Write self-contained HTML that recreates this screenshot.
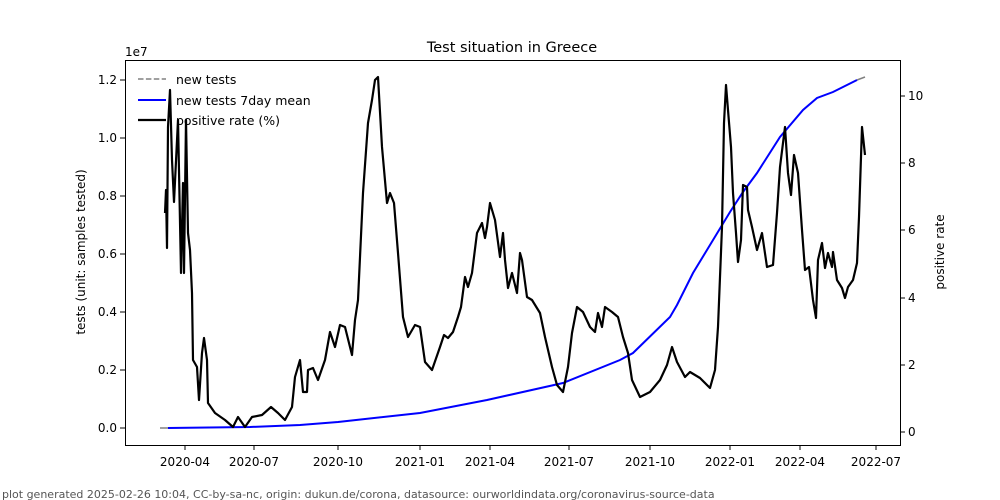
<!DOCTYPE html>
<html><head><meta charset="utf-8"><style>body{margin:0;background:#fff}svg{display:block}text{font-family:"DejaVu Sans","Liberation Sans",sans-serif}</style></head><body>
<svg width="1000" height="500" viewBox="0 0 1000 500">
<rect width="1000" height="500" fill="#fff"/>
<text x="512" y="52" font-size="14.5" text-anchor="middle">Test situation in Greece</text>
<text x="125" y="56" font-size="12">1e7</text>
<g font-size="12" text-anchor="end">
<line x1="120" x2="125" y1="428" y2="428" stroke="#000"/><text x="117" y="432">0.0</text>
<line x1="120" x2="125" y1="370" y2="370" stroke="#000"/><text x="117" y="374">0.2</text>
<line x1="120" x2="125" y1="312" y2="312" stroke="#000"/><text x="117" y="316">0.4</text>
<line x1="120" x2="125" y1="254" y2="254" stroke="#000"/><text x="117" y="258">0.6</text>
<line x1="120" x2="125" y1="196" y2="196" stroke="#000"/><text x="117" y="200">0.8</text>
<line x1="120" x2="125" y1="138" y2="138" stroke="#000"/><text x="117" y="142">1.0</text>
<line x1="120" x2="125" y1="80" y2="80" stroke="#000"/><text x="117" y="84">1.2</text>
</g>
<g font-size="12">
<line x1="900" x2="905" y1="432" y2="432" stroke="#000"/><text x="908" y="436">0</text>
<line x1="900" x2="905" y1="365" y2="365" stroke="#000"/><text x="908" y="369">2</text>
<line x1="900" x2="905" y1="298" y2="298" stroke="#000"/><text x="908" y="302">4</text>
<line x1="900" x2="905" y1="230" y2="230" stroke="#000"/><text x="908" y="234">6</text>
<line x1="900" x2="905" y1="163" y2="163" stroke="#000"/><text x="908" y="167">8</text>
<line x1="900" x2="905" y1="96" y2="96" stroke="#000"/><text x="908" y="100">10</text>
</g>
<g font-size="12" text-anchor="middle">
<line x1="185" x2="185" y1="445" y2="450" stroke="#000"/><text x="185" y="466">2020-04</text>
<line x1="254" x2="254" y1="445" y2="450" stroke="#000"/><text x="254" y="466">2020-07</text>
<line x1="338" x2="338" y1="445" y2="450" stroke="#000"/><text x="338" y="466">2020-10</text>
<line x1="420" x2="420" y1="445" y2="450" stroke="#000"/><text x="420" y="466">2021-01</text>
<line x1="490" x2="490" y1="445" y2="450" stroke="#000"/><text x="490" y="466">2021-04</text>
<line x1="569" x2="569" y1="445" y2="450" stroke="#000"/><text x="569" y="466">2021-07</text>
<line x1="650" x2="650" y1="445" y2="450" stroke="#000"/><text x="650" y="466">2021-10</text>
<line x1="730" x2="730" y1="445" y2="450" stroke="#000"/><text x="730" y="466">2022-01</text>
<line x1="800" x2="800" y1="445" y2="450" stroke="#000"/><text x="800" y="466">2022-04</text>
<line x1="876" x2="876" y1="445" y2="450" stroke="#000"/><text x="876" y="466">2022-07</text>
</g>
<text transform="translate(85,252) rotate(-90)" font-size="12" text-anchor="middle">tests (unit: samples tested)</text>
<text transform="translate(944,252) rotate(-90)" font-size="12" text-anchor="middle">positive rate</text>
<line x1="160" x2="170" y1="428" y2="428" stroke="#808080" stroke-width="1.5"/>
<line x1="857" x2="865" y1="80" y2="77" stroke="#808080" stroke-width="1.5"/>
<polyline fill="none" stroke="#0000ff" stroke-width="2" points="168,428 250,427 300,425 338,422 420,413 487,400 563,383 620,360 633,353 670,317 677,305 693,273 710,245 730,212 743,192 757,173 780,137 803,110 817,98 833,92 857,80"/>
<polyline fill="none" stroke="#000" stroke-width="2.2" stroke-linejoin="round" points="165,213 166,190 167,248 168,127 170,90 172,160 174,202 178,120 181,273 183,183 184,273 186,120 188,233 190,250 192,293 193,360 197,367 199,400 202,353 204,338 207,360 208,403 215,413 225,420 233,427 238,417 245,427 252,417 262,415 271,407 278,413 285,420 292,407 295,377 300,360 303,392 307,392 308,370 313,368 318,380 325,360 330,332 335,347 340,325 345,327 352,355 355,320 358,300 363,193 368,123 372,100 375,80 378,77 382,147 387,203 390,193 394,203 398,253 403,317 408,337 415,325 420,327 425,362 432,370 440,347 444,335 448,338 453,332 458,317 461,307 465,277 468,287 472,273 477,233 482,223 485,238 487,227 490,203 495,220 500,257 503,233 505,260 508,288 512,273 517,293 520,253 522,260 527,297 532,300 540,313 545,337 552,367 557,385 563,392 568,367 572,333 577,307 583,312 590,327 595,332 598,313 602,327 605,307 612,312 618,317 623,337 628,353 632,380 640,397 650,392 660,380 667,365 672,347 677,362 685,377 690,372 700,378 710,388 715,370 718,327 722,227 724,123 726,85 728,110 731,147 733,193 736,233 738,262 741,240 743,185 747,187 748,210 752,227 757,250 762,233 767,267 773,265 777,213 780,167 785,127 788,173 791,195 794,155 798,173 802,230 805,270 809,267 813,300 816,318 818,260 822,243 825,268 828,253 832,267 833,252 837,280 842,288 845,298 848,287 853,280 857,263 859,217 862,127 865,155"/>
<rect x="125.5" y="60.5" width="775" height="385" fill="none" stroke="#000" stroke-width="1"/>
<g font-size="12.5">
<line x1="138" x2="166" y1="79" y2="79" stroke="#808080" stroke-width="1.5" stroke-dasharray="5.5,2.4"/><text x="176" y="84">new tests</text>
<line x1="138" x2="166" y1="100" y2="100" stroke="#0000ff" stroke-width="2"/><text x="176" y="105">new tests 7day mean</text>
<line x1="138" x2="166" y1="120" y2="120" stroke="#000" stroke-width="2.2"/><text x="176" y="125">positive rate (%)</text>
</g>
<text x="2" y="498" font-size="11" fill="#555">plot generated 2025-02-26 10:04, CC-by-sa-nc, origin: dukun.de/corona, datasource: ourworldindata.org/coronavirus-source-data</text>
</svg>
</body></html>
